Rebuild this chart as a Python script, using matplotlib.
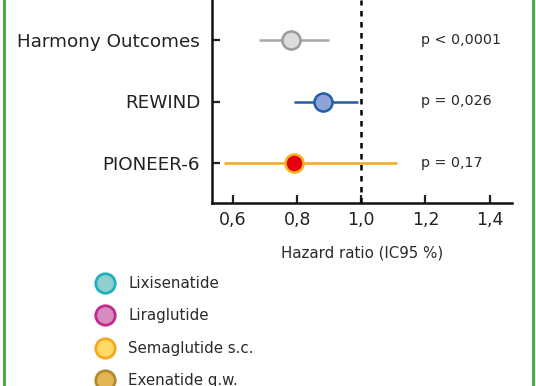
import matplotlib
matplotlib.use("Agg")
import matplotlib.pyplot as plt
from matplotlib.lines import Line2D

plt.rcParams['font.family'] = ['DejaVu Sans']

# Data
trials = ["Harmony Outcomes", "REWIND", "PIONEER-6"]
hr = [0.78, 0.88, 0.79]
ci_low = [0.68, 0.79, 0.57]
ci_high = [0.90, 0.99, 1.11]
p_values = ["p < 0,0001", "p = 0,026", "p = 0,17"]
line_colors = ["#a6a6a6", "#1f5fa6", "#f5a81c"]
face_colors = ["#dcdcdc", "#8fa3d9", "#e3000f"]
edge_colors = ["#9a9a9a", "#1f5fa6", "#f7b21e"]

xticks = [0.6, 0.8, 1.0, 1.2, 1.4]
xtick_labels = ["0,6", "0,8", "1,0", "1,2", "1,4"]

legend_labels = ["Lixisenatide", "Liraglutide", "Semaglutide s.c.", "Exenatide q.w."]
legend_faces = ["#8ecfd0", "#d78cc0", "#ffda66", "#e3b653"]
legend_edges = ["#1fb1bd", "#c42a8c", "#f5a81c", "#b38a2e"]

text_color = '#2a2a2a'

fig = plt.figure(figsize=(5.36, 3.86), dpi=100)
ax = fig.add_axes([212 / 536, 1 - 203 / 386, 300 / 536, 203 / 386])

ypos = [3, 2, 1]
for i in range(len(trials)):
    ax.plot([ci_low[i], ci_high[i]], [ypos[i], ypos[i]], color=line_colors[i],
            lw=1.8, solid_capstyle='butt', zorder=2)
    ax.plot(hr[i], ypos[i], 'o', ms=13, mfc=face_colors[i], mec=edge_colors[i],
            mew=1.8, zorder=4)
    ax.text(1.186, ypos[i], p_values[i], va='center', ha='left',
            fontsize=10.3, color=text_color)

ax.axvline(1.0, color='black', lw=1.8, ls=(0, (2.2, 2.2)), zorder=3)

ax.set_xlim(0.534, 1.47)
ax.set_ylim(0.35, 3.65)
ax.set_yticks(ypos)
ax.set_yticklabels(trials, fontsize=13.2, color=text_color)
ax.set_xticks(xticks)
ax.set_xticklabels(xtick_labels, fontsize=12.5, color=text_color)
ax.tick_params(axis='both', direction='in', length=6, width=1.6, colors='#222222')
ax.tick_params(axis='y', pad=8.5)
ax.tick_params(axis='x', pad=6)
for s in ['top', 'right']:
    ax.spines[s].set_visible(False)
for s in ['left', 'bottom']:
    ax.spines[s].set_linewidth(1.8)
    ax.spines[s].set_color('#111111')
ax.set_xlabel("Hazard ratio (IC95 %)", fontsize=10.8, color=text_color)
ax.xaxis.set_label_coords(0.5, -0.21)

handles = [Line2D([], [], ls='none', marker='o', ms=14, mfc=legend_faces[i],
                  mec=legend_edges[i], mew=2) for i in range(len(legend_labels))]
fig.legend(handles, legend_labels, loc='upper left', bbox_to_anchor=(0.165, 0.305),
           frameon=False, fontsize=10.8, labelspacing=1.17, handletextpad=0.95,
           borderpad=0, handlelength=1.2, labelcolor=text_color)

# green frame lines
fig.add_artist(Line2D([3.5 / 536, 3.5 / 536], [0, 1], color='#3aaa35', lw=2))
fig.add_artist(Line2D([533 / 536, 533 / 536], [0, 1], color='#3aaa35', lw=2))

fig.savefig("out.png", dpi=100)
